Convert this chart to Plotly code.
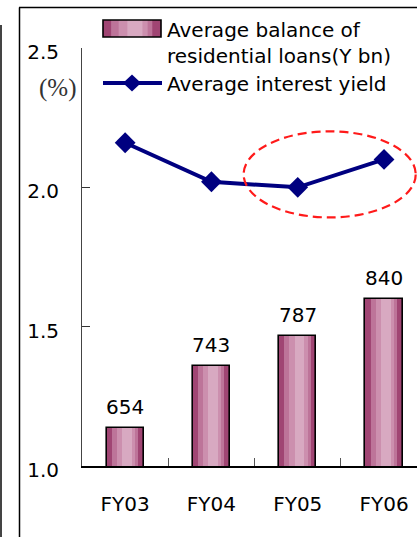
import plotly.graph_objects as go

# ---- data -------------------------------------------------------------
fiscal_years = ["FY03", "FY04", "FY05", "FY06"]
loan_balance = [654, 743, 787, 840]            # average balance, Y bn
interest_yield = [2.16, 2.02, 2.00, 2.10]      # average interest yield, %
yield_ticks = [1.0, 1.5, 2.0, 2.5]
yield_tick_labels = ["1.0", "1.5", "2.0", "2.5"]
bar_legend_lines = ["Average balance of", "residential loans(Y bn)"]
line_legend_label = "Average interest yield"
unit_label = "(%)"

# ---- page geometry ----------------------------------------------------
W, H = 417, 537
ML, MR, MT, MB = 82, 0, 48, 71
PW, PH = W - ML - MR, H - MT - MB
FONT = "DejaVu Sans"
NAVY = "#000080"


def px(xp):
    """page pixel x -> paper x"""
    return (xp - ML) / PW


def py(yp):
    """page pixel y -> paper y"""
    return (H - MB - yp) / PH


# cylinder-style shading for the bars: (left, right) fractions of the bar width
shade_layers = [
    (0.00, 1.00, "#a04573"),
    (0.14, 0.85, "#bd7499"),
    (0.27, 0.77, "#cc8fae"),
    (0.42, 0.68, "#d8a9c1"),
]
BAR_W = 0.43

fig = go.Figure()

for lo, hi, col in shade_layers:
    fig.add_trace(go.Bar(
        x=fiscal_years, y=loan_balance,
        width=BAR_W * (hi - lo), offset=-BAR_W / 2 + BAR_W * lo,
        marker=dict(color=col, line=dict(width=0)),
        yaxis="y", showlegend=False, hoverinfo="skip",
    ))
# outline on top of the shading
fig.add_trace(go.Bar(
    x=fiscal_years, y=loan_balance,
    width=BAR_W, offset=-BAR_W / 2,
    marker=dict(color="rgba(0,0,0,0)", line=dict(color="black", width=1.6)),
    yaxis="y", showlegend=False,
))

fig.add_trace(go.Scatter(
    x=fiscal_years, y=interest_yield, yaxis="y2",
    mode="lines+markers",
    line=dict(color=NAVY, width=4),
    marker=dict(symbol="diamond", size=16, color=NAVY),
    showlegend=False,
))

annotations = []
# bar value labels
for fy, v in zip(fiscal_years, loan_balance):
    annotations.append(dict(
        x=fy, y=v, xref="x", yref="y", text=str(v), showarrow=False,
        yanchor="bottom", yshift=7, font=dict(family=FONT, size=20, color="black"),
    ))

# unit label
annotations.append(dict(
    x=px(57), y=py(88), xref="paper", yref="paper", text=unit_label,
    showarrow=False, xanchor="center", yanchor="middle",
    font=dict(family="Liberation Serif", size=25, color="#333333"),
))

# legend text
for txt, yc in [(bar_legend_lines[0], 29.5), (bar_legend_lines[1], 56), (line_legend_label, 84)]:
    annotations.append(dict(
        x=px(165), y=py(yc), xref="paper", yref="paper", text=txt,
        showarrow=False, xanchor="left", yanchor="middle",
        font=dict(family=FONT, size=20, color="black"),
    ))

shapes = []
# outer frame
shapes.append(dict(type="line", xref="paper", yref="paper",
                   x0=px(1), x1=px(1), y0=py(25), y1=py(H + 5),
                   line=dict(color="#444444", width=2)))
shapes.append(dict(type="line", xref="paper", yref="paper",
                   x0=px(19.5), x1=px(19.5), y0=py(7.5), y1=py(H + 5),
                   line=dict(color="black", width=1.5)))
shapes.append(dict(type="line", xref="paper", yref="paper",
                   x0=px(19), x1=px(W + 5), y0=py(7.5), y1=py(7.5),
                   line=dict(color="black", width=1.5)))

# legend swatch for the bars
sx0, sx1, sy0, sy1 = 103, 161, 20, 37
for lo, hi, col in shade_layers:
    shapes.append(dict(type="rect", xref="paper", yref="paper",
                       x0=px(sx0 + (sx1 - sx0) * lo), x1=px(sx0 + (sx1 - sx0) * hi),
                       y0=py(sy1), y1=py(sy0), fillcolor=col, line=dict(width=0)))
shapes.append(dict(type="rect", xref="paper", yref="paper",
                   x0=px(sx0), x1=px(sx1), y0=py(sy1), y1=py(sy0),
                   fillcolor="rgba(0,0,0,0)", line=dict(color="black", width=1.6)))

# legend sample for the line
ly, lc = 83, 132
shapes.append(dict(type="line", xref="paper", yref="paper",
                   x0=px(103), x1=px(162), y0=py(ly), y1=py(ly),
                   line=dict(color=NAVY, width=4)))
shapes.append(dict(type="path", xref="paper", yref="paper",
                   path=(f"M{px(lc - 9)},{py(ly)} L{px(lc)},{py(ly - 8.5)} "
                         f"L{px(lc + 9)},{py(ly)} L{px(lc)},{py(ly + 8.5)} Z"),
                   fillcolor=NAVY, line=dict(color=NAVY, width=0)))

# dashed highlight round the last two yield points
shapes.append(dict(type="circle", xref="x", yref="y2",
                   x0=1.373, x1=3.367, y0=1.892, y1=2.201,
                   line=dict(color="#ff1a1a", width=2.2, dash="9px,5px")))

fig.update_layout(
    width=W, height=H,
    margin=dict(l=ML, r=MR, t=MT, b=MB, pad=0),
    paper_bgcolor="white", plot_bgcolor="white",
    barmode="overlay", bargap=0,
    showlegend=False,
    font=dict(family=FONT, size=20, color="black"),
    xaxis=dict(
        type="category", categoryorder="array", categoryarray=fiscal_years,
        range=[-0.5, 3.382],
        showline=True, linecolor="black", linewidth=1.5,
        ticks="inside", tickson="boundaries", ticklen=8, tickwidth=1.3, tickcolor="#555555",
        tickfont=dict(family=FONT, size=20, color="black"),
        ticklabelstandoff=19,
        showgrid=False, zeroline=False,
    ),
    yaxis=dict(range=[600, 1200], visible=False, showgrid=False, zeroline=False),
    yaxis2=dict(
        overlaying="y", side="left", range=[1.0, 2.5],
        tickmode="array", tickvals=yield_ticks, ticktext=yield_tick_labels,
        showline=True, linecolor="#444444", linewidth=1,
        ticks="inside", ticklen=8, tickwidth=1.2, tickcolor="#333333",
        tickfont=dict(family=FONT, size=20, color="black"),
        ticklabelstandoff=18, ticklabelshift=4,
        showgrid=False, zeroline=False,
    ),
    annotations=annotations,
    shapes=shapes,
)

fig.write_html("out.html")
